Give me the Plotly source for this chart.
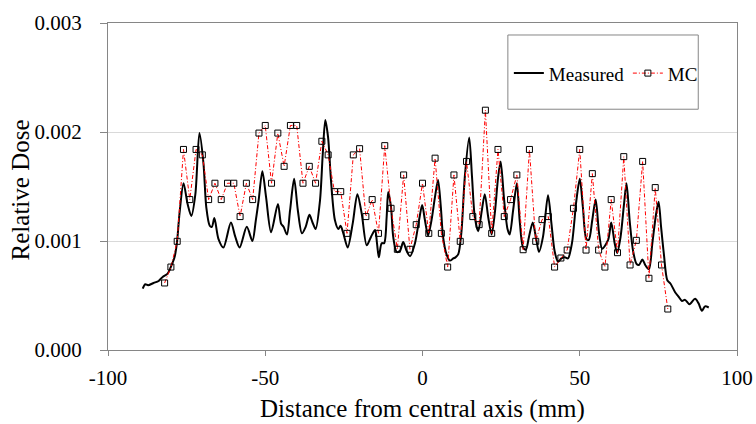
import plotly.graph_objects as go

# ---- Data ----
mc_x = [-82, -80, -78, -76, -74, -72, -70, -68, -66, -64, -62, -60, -58, -56, -54, -52, -50, -48,
        -46, -44, -42, -40, -38, -36, -34, -32, -30, -28, -26, -24, -22, -20, -18, -16, -14, -12,
        -10, -8, -6, -4, -2, 0, 2, 4, 6, 8, 10, 12, 14, 16, 18, 20, 22, 24, 26, 28, 30, 32, 34,
        36, 38, 40, 42, 44, 46, 48, 50, 52, 54, 56, 58, 60, 62, 64, 66, 68, 70, 72, 74, 76, 78]
mc_y = [0.000615, 0.000761, 0.000997, 0.00184, 0.00138, 0.00184, 0.00179, 0.00138, 0.00153,
        0.00138, 0.00153, 0.00153, 0.001224, 0.00153, 0.00138, 0.00199, 0.00206, 0.00153,
        0.00199, 0.001685, 0.00206, 0.00206, 0.00153, 0.001685, 0.00153, 0.001915, 0.00179,
        0.001453, 0.001453, 0.00107, 0.00179, 0.001847, 0.001224, 0.00138, 0.00107, 0.001875,
        0.0013, 0.000924, 0.001606, 0.000924, 0.00115, 0.00153, 0.00107, 0.00176, 0.00107,
        0.000761, 0.001606, 0.000997, 0.00173, 0.001224, 0.00115, 0.0022, 0.00107, 0.00184,
        0.001224, 0.00138, 0.001606, 0.00092, 0.00184, 0.000997,
        0.001196, 0.001224, 0.000761, 0.000844, 0.000917, 0.0013, 0.00184, 0.000917, 0.001618,
        0.000917, 0.000761, 0.00138, 0.000893, 0.001774, 0.00078, 0.001006, 0.00173, 0.000658,
        0.00149, 0.00078, 0.000376]

meas_x = [-88.96, -88.16, -87.27, -85.49, -83.90, -82.62, -81.03, -80.04, -78.85, -78.06,
          -77.27, -75.98, -74.69, -73.50, -72.22, -70.93, -69.64, -68.75, -67.66, -66.97,
          -66.18, -64.89, -63.30, -60.92, -59.54, -58.15, -55.87, -54.09, -53.00, -52.11,
          -50.92, -49.73, -48.15, -45.97, -44.98, -44.18, -43.10, -42.11, -40.82, -39.63,
          -38.34, -37.15, -35.96, -34.97, -33.98, -32.60, -31.71, -30.91, -30.02, -29.03,
          -27.84, -26.75, -26.06, -25.17, -23.78, -22.20, -20.71, -19.32, -17.74, -16.35,
          -15.07, -14.47, -13.88, -12.99, -12.19, -11.40, -10.91, -10.01, -9.32, -8.23,
          -7.14, -6.15, -5.06, -3.97, -2.39, -1.10, -0.11, 0.78, 1.77, 2.86,
          3.95, 4.94, 5.83, 6.53, 7.62, 8.71, 9.80, 10.49, 11.38, 12.37,
          13.46, 14.85, 15.74, 16.63, 17.72, 18.81, 19.80, 20.89, 21.98, 22.97,
          24.06, 24.85, 25.94, 27.03, 27.72, 28.81, 30.00, 30.89, 31.98, 32.88,
          33.87, 35.05, 36.14, 37.04, 38.32, 39.91, 41.00, 41.99, 43.08, 44.17,
          45.26, 46.25, 47.53, 48.92, 50.01, 51.00, 52.09, 52.88, 53.97, 55.06,
          56.15, 57.14, 59.02, 60.01, 61.10, 61.90, 62.99, 64.08, 64.87, 65.86,
          66.95, 68.04, 68.83, 69.92, 70.81, 72.00, 73.09, 74.28, 75.07, 75.86,
          76.75, 77.84, 78.83, 80.32, 81.41, 82.50, 83.49, 84.88, 86.66, 87.75,
          88.84, 89.83, 91.02]
meas_y = [0.000563, 0.000603, 0.000594, 0.000615, 0.000633, 0.00067, 0.0007, 0.00076, 0.00085, 0.00099,
          0.00125, 0.00153, 0.00134, 0.00123, 0.00143, 0.00199, 0.00171, 0.00131, 0.00114, 0.00113,
          0.00121, 0.00102, 0.00094, 0.00117, 0.00104, 0.00094, 0.00113, 0.00100, 0.00119, 0.00137,
          0.00164, 0.0014, 0.00108, 0.00134, 0.00116, 0.00113, 0.00106, 0.00128, 0.00157, 0.00128,
          0.00107, 0.00113, 0.00124, 0.00117, 0.00111, 0.00137, 0.0018, 0.00211, 0.00195, 0.00153,
          0.00119, 0.00111, 0.00114, 0.00107, 0.00094, 0.00116, 0.00143, 0.00125, 0.00096, 0.00104,
          0.0011, 0.00098, 0.00085, 0.00098, 0.00098, 0.00122, 0.00145, 0.00131, 0.00104, 0.0009,
          0.00091, 0.00099, 0.00091, 0.00086, 0.00098, 0.00119, 0.00133, 0.00119, 0.00105, 0.00119,
          0.0014, 0.00156, 0.00131, 0.00104, 0.00088, 0.00082, 0.00084, 0.00085, 0.00088, 0.00108,
          0.00159, 0.00195, 0.00159, 0.00122, 0.00109, 0.00127, 0.00143, 0.00122, 0.00106, 0.00125,
          0.00159, 0.00173, 0.00138, 0.00111, 0.00106, 0.00128, 0.00153, 0.00119, 0.00094, 0.00092,
          0.00104, 0.00117, 0.00102, 0.0009, 0.00104, 0.00142, 0.00116, 0.00091, 0.00081, 0.00084,
          0.00085, 0.00084, 0.00098, 0.00137, 0.00157, 0.00131, 0.00102, 0.00101, 0.00119, 0.00138,
          0.00107, 0.00093, 0.00101, 0.00117, 0.00098, 0.00089, 0.00104, 0.00134, 0.00153, 0.00119,
          0.00091, 0.00079, 0.00078, 0.00083, 0.00078, 0.00074, 0.00098, 0.00125, 0.00136, 0.00113,
          0.00088, 0.00064, 0.00061, 0.00053, 0.00049, 0.00045, 0.00046, 0.00042, 0.00047, 0.00043,
          0.00036, 0.0004, 0.00039]

x_ticks = [-100, -50, 0, 50, 100]
y_ticks = [0.000, 0.001, 0.002, 0.003]
x_title = "Distance from central axis (mm)"
y_title = "Relative Dose"

FONT = "Liberation Serif, Times New Roman, serif"

fig = go.Figure()
fig.add_trace(go.Scatter(
    x=meas_x, y=meas_y, name="Measured", mode="lines",
    line=dict(color="black", width=2, shape="spline", smoothing=0.8),
))
fig.add_trace(go.Scatter(
    x=mc_x, y=mc_y, name="MC", mode="lines+markers",
    line=dict(color="#ff0000", width=1, dash="4px,2px,1px,2px"),
    marker=dict(symbol="square-open", size=6, color="black", line=dict(width=1, color="black")),
))

# legend box (as in the reference, larger than its content)
fig.add_shape(type="rect", xref="paper", yref="paper",
              x0=(508 - 107.5) / 630, x1=(698.7 - 107.5) / 630,
              y0=(350 - 109) / 327.3, y1=(350 - 34.7) / 327.3,
              line=dict(color="#868686", width=1), fillcolor="white", layer="above")

fig.update_layout(
    width=756, height=424,
    margin=dict(l=107.5, r=18.5, t=22.7, b=74, autoexpand=False),
    paper_bgcolor="white", plot_bgcolor="white",
    font=dict(family=FONT, color="black", size=21),
    showlegend=True,
    legend=dict(orientation="h", x=(509 - 107.5) / 630, xanchor="left",
                y=(350 - 73) / 327.3, yanchor="middle",
                bgcolor="rgba(0,0,0,0)", borderwidth=0,
                font=dict(family=FONT, size=19, color="black"),
                entrywidth=74, entrywidthmode="pixels"),
    xaxis=dict(range=[-100, 100], tickvals=x_ticks, ticktext=[str(v) for v in x_ticks],
               showgrid=False, zeroline=False, showline=True, linecolor="#868686", linewidth=1,
               mirror=True, ticks="outside", ticklen=5, tickcolor="#868686",
               tickfont=dict(family=FONT, size=21, color="black"), ticklabelstandoff=4),
    yaxis=dict(range=[0, 0.003], tickvals=y_ticks, ticktext=[f"{v:.3f}" for v in y_ticks],
               showgrid=True, gridcolor="#d9d9d9", gridwidth=1, zeroline=False,
               showline=True, linecolor="#868686", linewidth=1, mirror=True,
               ticks="outside", ticklen=7, tickcolor="#868686",
               tickfont=dict(family=FONT, size=21, color="black"), ticklabelstandoff=14),
    annotations=[
        dict(text=x_title, xref="paper", yref="paper", x=0.5, y=(350 - 409) / 327.3,
             xanchor="center", yanchor="middle", showarrow=False,
             font=dict(family=FONT, size=25, color="black")),
        dict(text=y_title, xref="paper", yref="paper", x=(20 - 107.5) / 630, y=0.49,
             xanchor="center", yanchor="middle", textangle=-90, showarrow=False,
             font=dict(family=FONT, size=25, color="black")),
    ],
)

fig.write_html("out.html", config={"displayModeBar": False},
               post_script="document.body.style.margin='0';document.body.style.padding='0';")
